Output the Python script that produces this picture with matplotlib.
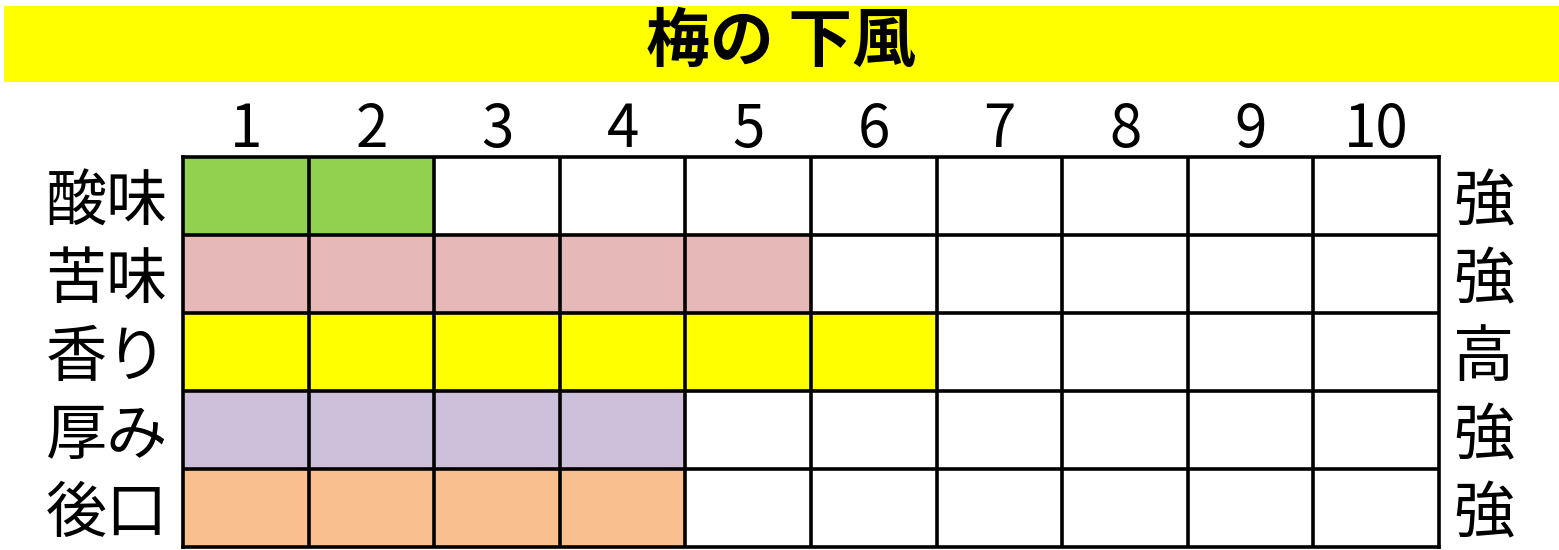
import matplotlib
matplotlib.use("Agg")
import matplotlib.pyplot as plt
from matplotlib.patches import Rectangle
import numpy as np

plt.rcParams['font.family'] = ['Noto Sans CJK JP', 'DejaVu Sans']

title = "梅の 下風"
attributes = ['酸味', '苦味', '香り', '厚み', '後口']
levels = [2, 5, 6, 4, 4]
right_labels = ['強', '強', '高', '強', '強']
scale_ticks = [1, 2, 3, 4, 5, 6, 7, 8, 9, 10]
row_colors = ['#92D050', '#E6B8B7', '#FFFF00', '#CCC0DA', '#FABF8F']

W, H = 1559, 550
fig = plt.figure(figsize=(W / 100, H / 100), dpi=100)
fig.patch.set_facecolor('white')

# title bar
fig.patches.append(Rectangle((4 / W, 1 - 82 / H), (1559 - 4) / W, (82 - 6) / H,
                             transform=fig.transFigure, facecolor='#FFFF00',
                             edgecolor='none', zorder=0))
fig.text(781 / W, 1 - 42 / H, title, ha='center', va='center',
         fontsize=46, fontweight='bold', color='black')

ax = fig.add_axes([183 / W, 1 - 547 / H, (1439 - 183) / W, (547 - 157) / H])
n_cols = len(scale_ticks)
n_rows = len(attributes)
for i, (lv, c) in enumerate(zip(levels, row_colors)):
    ax.barh(i, np.ones(lv), left=np.arange(lv), height=1.0, color=c,
            edgecolor='none', zorder=1)

lw = 2.6
for x in range(1, n_cols):
    ax.axvline(x, color='black', lw=lw, zorder=3)
for y in range(1, n_rows):
    ax.axhline(y - 0.5, color='black', lw=lw, zorder=3)
for s in ax.spines.values():
    s.set_linewidth(lw)
    s.set_zorder(4)

ax.set_xlim(0, n_cols)
ax.set_ylim(n_rows - 0.5, -0.5)
ax.xaxis.tick_top()
ax.set_xticks(np.arange(n_cols) + 0.5)
ax.set_xticklabels([str(t) for t in scale_ticks], fontsize=42)
ax.set_yticks(range(n_rows))
ax.set_yticklabels(attributes, fontsize=44)
ax.tick_params(axis='both', length=0)
ax.tick_params(axis='x', pad=-3)
ax.tick_params(axis='y', pad=11)

ax2 = ax.twinx()
ax2.set_ylim(ax.get_ylim())
ax2.set_yticks(range(n_rows))
ax2.set_yticklabels(right_labels, fontsize=44)
ax2.tick_params(axis='y', length=0, pad=10)
for s in ax2.spines.values():
    s.set_visible(False)

fig.savefig('out.png', dpi=100)
